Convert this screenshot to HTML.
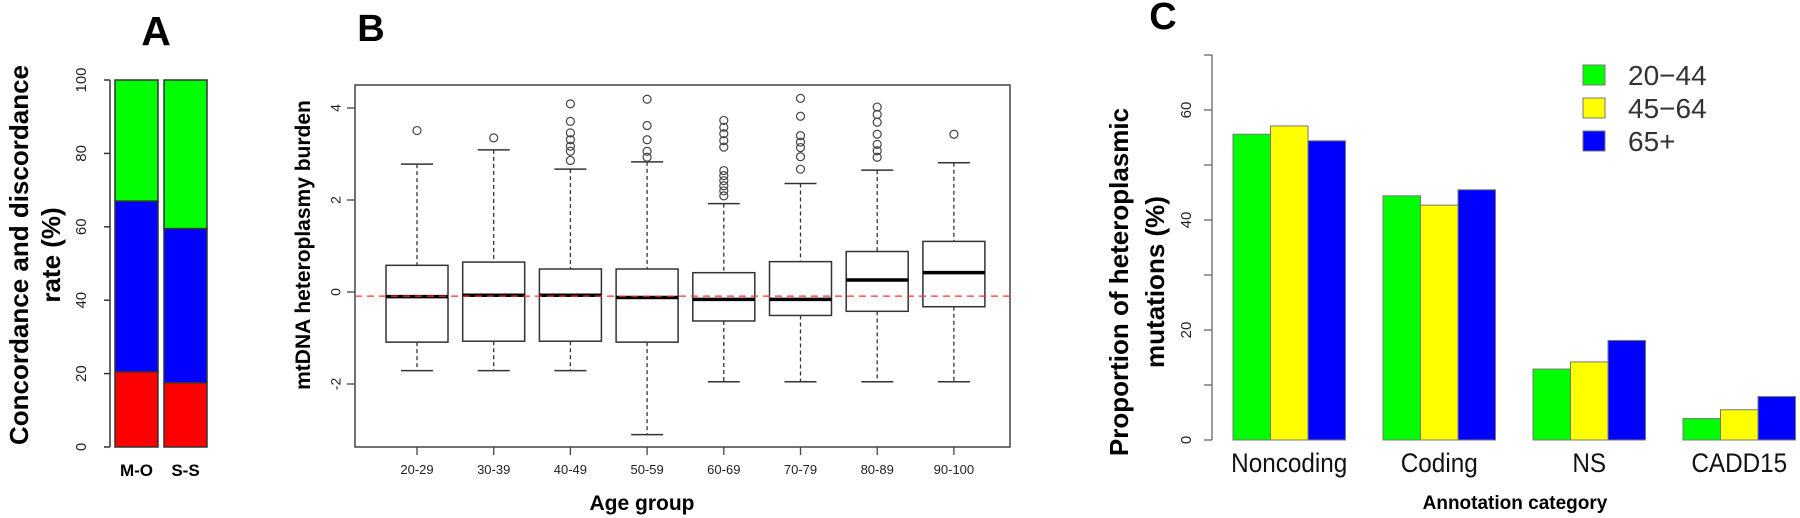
<!DOCTYPE html>
<html><head><meta charset="utf-8"><style>
html,body{margin:0;padding:0;background:#fff;width:1800px;height:518px;overflow:hidden}
svg{display:block;font-family:"Liberation Sans",Arial,sans-serif}
</style></head><body>
<svg id="fig" width="1800" height="518" viewBox="0 0 1800 518" xmlns="http://www.w3.org/2000/svg">
<g id="pa"></g>
<g id="pb"></g>
<g id="pc"></g>
</svg>
<script>
// Panel A data
const aCats = ["M-O","S-S"];
const aRed = [20.5, 17.5];
const aBlue = [46.5, 42];
const aGreen = [33, 40.5];
const aTicks = [0,20,40,60,80,100];
// Panel B data
const bCats = ["20-29","30-39","40-49","50-59","60-69","70-79","80-89","90-100"];
const bLow = [-1.71,-1.71,-1.71,-3.1,-1.95,-1.95,-1.95,-1.95];
const bQ1 = [-1.09,-1.07,-1.07,-1.09,-0.63,-0.51,-0.42,-0.32];
const bMed = [-0.1,-0.07,-0.07,-0.12,-0.16,-0.16,0.26,0.42];
const bQ3 = [0.58,0.65,0.5,0.5,0.42,0.66,0.88,1.1];
const bHigh = [2.78,3.09,2.67,2.83,1.92,2.36,2.65,2.81];
const bOut = [[3.51],[3.35],[4.09,3.71,3.46,3.31,3.17,3.06,2.86],[4.19,3.62,3.31,3.06,2.93],
 [3.73,3.58,3.44,3.29,3.15,2.64,2.53,2.42,2.31,2.2,2.09],[4.21,3.82,3.4,3.26,3.14,2.94,2.67],
 [4.02,3.86,3.69,3.43,3.21,3.07,2.93],[3.43]];
const bRef = -0.09;
const bTicks = [-2,0,2,4];
// Panel C data
const cCats = ["Noncoding","Coding","NS","CADD15"];
const cSeries = ["20\u221244","45\u221264","65+"];
const c2044 = [55.6,44.4,12.9,3.9];
const c4564 = [57.1,42.7,14.2,5.5];
const c65 = [54.4,45.5,18.1,7.9];
const cTicks = [0,20,40,60];
const cMinor = [0,10,20,30,40,50,60,70];

const NS="http://www.w3.org/2000/svg";
function mk(parent,tag,attrs,text){const e=document.createElementNS(NS,tag);for(const k in attrs)e.setAttribute(k,attrs[k]);if(text!==undefined)e.textContent=text;parent.appendChild(e);return e;}

// ---- Panel A ----
const pa=document.getElementById('pa');
const ay=v=>447-v*3.67;
let t=mk(pa,'text',{x:156,y:45,'font-size':41,'font-weight':'bold','text-anchor':'middle'},'A');

mk(pa,'line',{x1:110,y1:ay(0),x2:110,y2:ay(100),stroke:'#333','stroke-width':1.5});
aTicks.forEach(v=>{
  mk(pa,'line',{x1:104,y1:ay(v),x2:110,y2:ay(v),stroke:'#333','stroke-width':1.5});
  const l=mk(pa,'text',{x:82,y:ay(v),'font-size':15,'text-anchor':'middle',transform:`rotate(-90 82 ${ay(v)})`,'dominant-baseline':'middle',fill:'#222'},v);
  
});
t=mk(pa,'text',{x:0,y:0,'font-size':26,'font-weight':'bold','text-anchor':'middle',transform:'translate(28,255) rotate(-90)'},'Concordance and discordance');

mk(pa,'text',{x:0,y:0,'font-size':26,'font-weight':'bold','text-anchor':'middle',transform:'translate(60,255) rotate(-90)'},'rate  (%)');
const aX=[115,164];
aCats.forEach((c,i)=>{
  const x=aX[i],w=43;
  let base=0;
  [[aRed,'#ff0000'],[aBlue,'#0000ff'],[aGreen,'#00ff00']].forEach(([arr,col])=>{
    const r=mk(pa,'rect',{x:x,y:ay(base+arr[i]),width:w,height:arr[i]*3.67,fill:col,stroke:'#333','stroke-width':1.5});
    
    base+=arr[i];
  });
  const l=mk(pa,'text',{x:x+w/2,y:476,'font-size':17,'font-weight':'bold','text-anchor':'middle'},c);
  
});

// ---- Panel B ----
const pb=document.getElementById('pb');
const by=v=>292-v*46;
const bx=i=>417+i*76.7;
t=mk(pb,'text',{x:371,y:41,'font-size':38,'font-weight':'bold','text-anchor':'middle'},'B');

mk(pb,'rect',{x:355,y:85,width:655,height:362,fill:'none',stroke:'#444','stroke-width':1.5});
bTicks.forEach(v=>{
  mk(pb,'line',{x1:347,y1:by(v),x2:355,y2:by(v),stroke:'#444','stroke-width':1.3});
  const l=mk(pb,'text',{x:0,y:0,'font-size':14,'text-anchor':'middle',fill:'#222',transform:`translate(337,${by(v)}) rotate(-90)`,'dominant-baseline':'middle'},v);
  
});
t=mk(pb,'text',{x:0,y:0,'font-size':21,'font-weight':'bold','text-anchor':'middle',transform:'translate(310,245) rotate(-90)'},'mtDNA heteroplasmy burden');

t=mk(pb,'text',{x:642,y:510,'font-size':21,'font-weight':'bold','text-anchor':'middle'},'Age group');

bCats.forEach((c,i)=>{
  const x=bx(i),hw=31,cw=16;
  mk(pb,'line',{x1:x,y1:447,x2:x,y2:455,stroke:'#444','stroke-width':1.3});
  const l=mk(pb,'text',{x:x,y:474,'font-size':13,'text-anchor':'middle',fill:'#222'},c);
  
  const g=mk(pb,'g',{});
  
  mk(g,'line',{x1:x,y1:by(bHigh[i]),x2:x,y2:by(bQ3[i]),stroke:'#333','stroke-width':1.3,'stroke-dasharray':'4,3'});
  mk(g,'line',{x1:x,y1:by(bQ1[i]),x2:x,y2:by(bLow[i]),stroke:'#333','stroke-width':1.3,'stroke-dasharray':'4,3'});
  mk(g,'line',{x1:x-cw,y1:by(bHigh[i]),x2:x+cw,y2:by(bHigh[i]),stroke:'#333','stroke-width':1.5});
  mk(g,'line',{x1:x-cw,y1:by(bLow[i]),x2:x+cw,y2:by(bLow[i]),stroke:'#333','stroke-width':1.5});
  mk(g,'rect',{x:x-hw,y:by(bQ3[i]),width:2*hw,height:by(bQ1[i])-by(bQ3[i]),fill:'#fff',stroke:'#333','stroke-width':1.5});
  mk(g,'line',{x1:x-hw,y1:by(bMed[i]),x2:x+hw,y2:by(bMed[i]),stroke:'#000','stroke-width':3.5});
  bOut[i].forEach(v=>{
    const o=mk(g,'circle',{cx:x,cy:by(v),r:4,fill:'none',stroke:'#444','stroke-width':1.2});
    
  });
});
t=mk(pb,'line',{x1:355,y1:by(bRef),x2:1010,y2:by(bRef),stroke:'#ff3030','stroke-width':1.3,'stroke-dasharray':'7,5'});


// ---- Panel C ----
const pc=document.getElementById('pc');
const cy=v=>440-v*5.5;
const bw=37.5;
t=mk(pc,'text',{x:1163,y:29,'font-size':38,'font-weight':'bold','text-anchor':'middle'},'C');

mk(pc,'line',{x1:1212,y1:cy(0),x2:1212,y2:cy(70),stroke:'#666','stroke-width':1.3});
cMinor.forEach(v=>mk(pc,'line',{x1:1204,y1:cy(v),x2:1212,y2:cy(v),stroke:'#666','stroke-width':1.3}));
cTicks.forEach(v=>{
  const l=mk(pc,'text',{x:0,y:0,'font-size':15,'text-anchor':'middle',fill:'#222',transform:`translate(1187,${cy(v)}) rotate(-90)`,'dominant-baseline':'middle'},v);
  
});
t=mk(pc,'text',{x:0,y:0,'font-size':26,'font-weight':'bold','text-anchor':'middle',transform:'translate(1128,282) rotate(-90)'},'Proportion of heteroplasmic');

mk(pc,'text',{x:0,y:0,'font-size':26,'font-weight':'bold','text-anchor':'middle',transform:'translate(1164,282) rotate(-90)'},'mutations (%)');
t=mk(pc,'text',{x:1515,y:509,'font-size':19,'font-weight':'bold','text-anchor':'middle'},'Annotation category');

const cCols=['#00ff00','#ffff00','#0000ff'];
const cData=[c2044,c4564,c65];
cCats.forEach((c,i)=>{
  const x0=1233+i*4*bw;
  cData.forEach((arr,s)=>{
    const r=mk(pc,'rect',{x:x0+s*bw,y:cy(arr[i]),width:bw,height:arr[i]*5.5,fill:cCols[s],stroke:'#777','stroke-width':1});
    
  });
  const cx=x0+1.5*bw;
  const l=mk(pc,'text',{x:cx,y:472,'font-size':27,'text-anchor':'middle',fill:'#111',transform:`translate(${cx},0) scale(0.9,1) translate(${-cx},0)`},c);
  
});
cSeries.forEach((s,k)=>{
  const yc=75+k*33;
  const g=mk(pc,'g',{});
  
  mk(g,'rect',{x:1583,y:yc-10,width:22,height:20,fill:cCols[k],stroke:'#777','stroke-width':1});
  mk(g,'text',{x:1628,y:yc+10,'font-size':28,fill:'#333'},s);
});
</script>
</body></html>
